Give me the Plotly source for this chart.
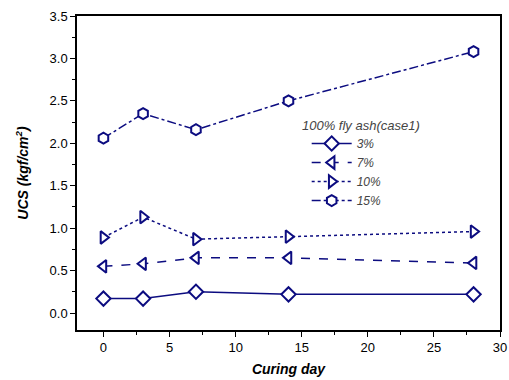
import plotly.graph_objects as go

days = [0, 3, 7, 14, 28]
s3 = [0.17, 0.17, 0.25, 0.22, 0.22]
s7 = [0.55, 0.58, 0.65, 0.65, 0.59]
s10 = [0.89, 1.13, 0.87, 0.90, 0.96]
s15 = [2.06, 2.35, 2.16, 2.50, 3.08]
names = ["3%", "7%", "10%", "15%"]
series = [s3, s7, s10, s15]
symbols = ["diamond", "triangle-left", "triangle-right", "hexagon"]
dashes = ["solid", "dash", "dot", "dashdot"]
legend_title = "100% fly ash(case1)"

navy = "#0c0c80"
fig = go.Figure()
for n, s, sym, d in zip(names, series, symbols, dashes):
    fig.add_trace(go.Scatter(
        x=days, y=s, name="<i>" + n + "</i>", mode="lines+markers",
        line=dict(color=navy, width=1.5, dash=d),
        marker=dict(symbol=sym, size=11, color="white", line=dict(color=navy, width=2)),
    ))

font = "Liberation Sans, Arial, sans-serif"
fig.add_annotation(
    x=0.527, y=0.65, xref="paper", yref="paper", xanchor="left", yanchor="middle",
    text="<i>" + legend_title + "</i>", showarrow=False,
    font=dict(color="#444", size=13),
)
fig.update_layout(
    width=509, height=380,
    margin=dict(l=77, r=9, t=16, b=50),
    plot_bgcolor="white", paper_bgcolor="white",
    font=dict(family=font, size=13, color="black"),
    showlegend=True,
    legend=dict(
        x=0.543, y=0.64, xanchor="left", yanchor="top",
        bgcolor="rgba(0,0,0,0)",
        font=dict(color="#444", size=12),
        itemwidth=40, tracegroupgap=0,
    ),
    xaxis=dict(
        range=[-2, 30], tickvals=[0, 5, 10, 15, 20, 25, 30],
        showline=True, linecolor="black", linewidth=1.5, mirror=True,
        ticks="outside", ticklen=5, tickcolor="black",
        minor=dict(dtick=2.5, ticks="outside", ticklen=3, tickcolor="black"),
        showgrid=False, zeroline=False, automargin=False,
        title=dict(text="<b><i>Curing day</i></b>", font=dict(size=14), standoff=10),
    ),
    yaxis=dict(
        range=[-0.2, 3.5], tickvals=[0, 0.5, 1.0, 1.5, 2.0, 2.5, 3.0, 3.5],
        tickformat=".1f",
        showline=True, linecolor="black", linewidth=1.5, mirror=True,
        ticks="outside", ticklen=5, tickcolor="black",
        minor=dict(dtick=0.25, tick0=0, ticks="outside", ticklen=3, tickcolor="black"),
        showgrid=False, zeroline=False, automargin=False,
        title=dict(text="<b><i>UCS (kgf/cm<sup>2</sup>)</i></b>", font=dict(size=14), standoff=18),
    ),
)
fig.write_html("out.html")
